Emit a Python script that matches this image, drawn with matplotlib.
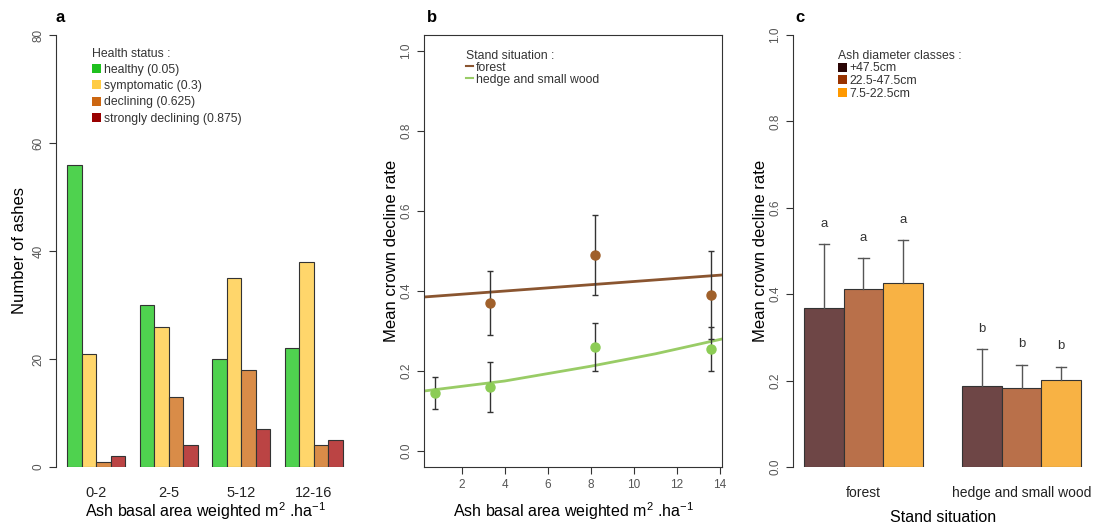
import matplotlib.pyplot as plt
from matplotlib.patches import Patch
from matplotlib.lines import Line2D

plt.rcParams['font.family'] = ['Liberation Sans', 'DejaVu Sans']
plt.rcParams['mathtext.default'] = 'regular'

# panel a data
classes = ['0-2', '2-5', '5-12', '12-16']
health_labels = ['healthy (0.05)', 'symptomatic (0.3)', 'declining (0.625)', 'strongly declining (0.875)']
healthy = [56, 30, 20, 22]
symptomatic = [21, 26, 35, 38]
declining = [1, 13, 18, 4]
strongly = [2, 4, 7, 5]

# panel b data
forest_x = [3.3, 8.2, 13.6]
forest_y = [0.37, 0.49, 0.39]
forest_err = [0.08, 0.10, 0.11]
hedge_x = [0.76, 3.3, 8.2, 13.6]
hedge_y = [0.145, 0.16, 0.26, 0.255]
hedge_err = [0.04, 0.063, 0.06, 0.055]
fit_forest_x = [0.25, 14.09]
fit_forest_y = [0.385, 0.44]
fit_hedge_x = [0.25, 4.0, 8.0, 11.0, 14.09]
fit_hedge_y = [0.15, 0.175, 0.212, 0.243, 0.28]

# panel c data
situations = ['forest', 'hedge and small wood']
diam_labels = ['+47.5cm', '22.5-47.5cm', '7.5-22.5cm']
big = [0.367, 0.188]
mid = [0.411, 0.183]
small = [0.426, 0.201]
big_up = [0.516, 0.273]
mid_up = [0.484, 0.237]
small_up = [0.525, 0.232]
letters = [['a', 'b'], ['a', 'b'], ['a', 'b']]

fig = plt.figure(figsize=(10.94, 5.29), dpi=100)
W, H = 1094, 529

def box(l, t, r, b):
    return [l / W, 1 - b / H, (r - l) / W, (b - t) / H]

tick_gray = '#555555'
xlab = 'Ash basal area weighted m$^{2}$ .ha$^{-1}$'

def style_legend(lg):
    for t in lg.get_texts():
        t.set_color('#333333')
    lg.get_title().set_color('#333333')

# ---------- a ----------
ax = fig.add_axes(box(56, 35, 354, 467))
bar_cols = ['#4fd24f', '#ffd66b', '#d98c48', '#bb4444']
leg_cols = ['#1ec01e', '#ffcc44', '#cc6611', '#990000']
series = [healthy, symptomatic, declining, strongly]
for k, vals in enumerate(series):
    xs = [1 + g * 5 + k for g in range(len(classes))]
    ax.bar(xs, vals, width=1, align='edge', color=bar_cols[k], edgecolor='#333333', linewidth=0.8)
ax.set_xlim(0.24, 20.76)
ax.set_ylim(0, 80)
for s in ['top', 'right', 'bottom']:
    ax.spines[s].set_visible(False)
ax.spines['left'].set_color('#333333')
ax.set_yticks([0, 20, 40, 60, 80])
ax.tick_params(axis='y', labelrotation=90, labelsize=8.5, labelcolor=tick_gray, color='#333333', length=5)
for lab in ax.get_yticklabels():
    lab.set_verticalalignment('center')
ax.set_xticks([3 + g * 5 for g in range(len(classes))])
ax.set_xticklabels(classes, fontsize=10.5, color='#222222')
ax.tick_params(axis='x', length=0, pad=14)
ax.set_ylabel('Number of ashes', fontsize=12, labelpad=4)
ax.set_xlabel(xlab, fontsize=11.5, labelpad=0)
handles = [Patch(facecolor=c, edgecolor='none') for c in leg_cols]
lg = ax.legend(handles, health_labels, title='Health status :', loc='upper left',
               bbox_to_anchor=(0.1, 0.985), frameon=False, fontsize=8.8, title_fontsize=8.8,
               handlelength=0.75, handleheight=0.75, handletextpad=0.2, labelspacing=0.35,
               alignment='left', borderpad=0)
style_legend(lg)
fig.text(55 / W, 1 - 18 / H, 'a', fontsize=12, fontweight='bold', ha='left', va='center')

# ---------- b ----------
ax = fig.add_axes(box(424, 35, 722, 467))
ax.plot(fit_forest_x, fit_forest_y, color='#8a5530', linewidth=2)
ax.plot(fit_hedge_x, fit_hedge_y, color='#99cc66', linewidth=2)
ax.errorbar(forest_x, forest_y, yerr=forest_err, fmt='o', color='#a0602a', ecolor='#333333',
            elinewidth=1, capsize=2.5, markersize=6.5, zorder=3)
ax.errorbar(hedge_x, hedge_y, yerr=hedge_err, fmt='o', color='#8ccc55', ecolor='#333333',
            elinewidth=1, capsize=2.5, markersize=6.5, zorder=3)
ax.set_xlim(0.25, 14.09)
ax.set_ylim(-0.04, 1.04)
ax.set_xticks([2, 4, 6, 8, 10, 12, 14])
ax.set_yticks([0.0, 0.2, 0.4, 0.6, 0.8, 1.0])
ax.set_yticklabels(['0.0', '0.2', '0.4', '0.6', '0.8', '1.0'])
for s in ax.spines.values():
    s.set_color('#333333')
ax.tick_params(axis='y', labelrotation=90, labelsize=8.5, labelcolor=tick_gray, color='#333333', length=5)
for lab in ax.get_yticklabels():
    lab.set_verticalalignment('center')
ax.tick_params(axis='x', labelsize=8.5, labelcolor=tick_gray, color='#333333', length=5)
ax.set_ylabel('Mean crown decline rate', fontsize=12, labelpad=1)
ax.set_xlabel(xlab, fontsize=11.5, labelpad=7)
handles = [Line2D([], [], color='#8a5530', lw=1.5), Line2D([], [], color='#99cc66', lw=1.5)]
lg = ax.legend(handles, ['forest', 'hedge and small wood'], title='Stand situation :', loc='upper left',
               bbox_to_anchor=(0.12, 0.98), frameon=False, fontsize=8.8, title_fontsize=8.8,
               handlelength=0.6, handletextpad=0.2, labelspacing=0.0, alignment='left', borderpad=0)
style_legend(lg)
fig.text(427 / W, 1 - 18 / H, 'b', fontsize=12, fontweight='bold', ha='left', va='center')

# ---------- c ----------
ax = fig.add_axes(box(793, 35, 1092, 467))
c_cols = ['#6e4646', '#b9704a', '#f8b244']
c_leg = ['#2a0505', '#993300', '#ff9900']
c_vals = [big, mid, small]
c_up = [big_up, mid_up, small_up]
for k in range(3):
    xs = [1 + g * 4 + k for g in range(len(situations))]
    ax.bar(xs, c_vals[k], width=1, align='edge', color=c_cols[k], edgecolor='#333333', linewidth=0.8)
    for g, x in enumerate(xs):
        cx = x + 0.5
        ax.plot([cx, cx], [c_vals[k][g], c_up[k][g]], color='#555555', lw=1, zorder=1)
        ax.plot([cx - 0.13, cx + 0.13], [c_up[k][g], c_up[k][g]], color='#555555', lw=1)
        ax.text(cx, c_up[k][g] + 0.047, letters[k][g], ha='center', va='center', fontsize=9.5, color='#333333')
ax.set_xlim(0.72, 8.28)
ax.set_ylim(0, 1.0)
for s in ['top', 'right', 'bottom']:
    ax.spines[s].set_visible(False)
ax.spines['left'].set_color('#333333')
ax.set_yticks([0.0, 0.2, 0.4, 0.6, 0.8, 1.0])
ax.set_yticklabels(['0.0', '0.2', '0.4', '0.6', '0.8', '1.0'])
ax.tick_params(axis='y', labelrotation=90, labelsize=8.5, labelcolor=tick_gray, color='#333333', length=5)
for lab in ax.get_yticklabels():
    lab.set_verticalalignment('center')
ax.set_xticks([2.5 + g * 4 for g in range(len(situations))])
ax.set_xticklabels(situations, fontsize=10, color='#222222')
ax.tick_params(axis='x', length=0, pad=14)
ax.set_ylabel('Mean crown decline rate', fontsize=12, labelpad=1)
fig.text(943 / W, 1 - 518 / H, 'Stand situation', fontsize=11.5, ha='center', va='center')
handles = [Patch(facecolor=c, edgecolor='none') for c in c_leg]
lg = ax.legend(handles, diam_labels, title='Ash diameter classes :', loc='upper left',
               bbox_to_anchor=(0.13, 0.98), frameon=False, fontsize=8.8, title_fontsize=8.8,
               handlelength=0.75, handleheight=0.75, handletextpad=0.2, labelspacing=0.05,
               alignment='left', borderpad=0)
style_legend(lg)
fig.text(795 / W, 1 - 18 / H, 'c', fontsize=12, fontweight='bold', ha='left', va='center')

fig.savefig('out.png', dpi=100)
